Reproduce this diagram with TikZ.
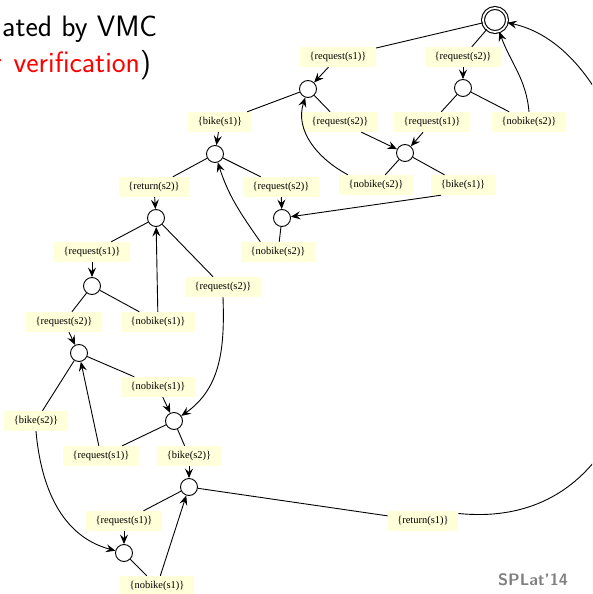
\documentclass[tikz,border=0pt]{standalone}
\usepackage{fontspec}
\newfontfamily\lblfont{Liberation Serif}
\usetikzlibrary{arrows.meta}
\definecolor{lblfill}{RGB}{255,255,218}
\definecolor{footgray}{RGB}{128,128,128}
\begin{document}
\begin{tikzpicture}[x=1pt,y=1pt,
  lbl/.style={fill=lblfill,inner xsep=9.5pt,inner ysep=0pt,minimum height=20pt,font=\lblfont\fontsize{10.5}{12}\selectfont},
  st/.style={circle,draw,line width=0.9pt,minimum size=17pt,inner sep=0pt},
  fin/.style={circle,draw,line width=1.1pt,minimum size=24pt,inner sep=0pt,double,double distance=1.8pt},
  ln/.style={line width=0.9pt},
  arr/.style={line width=0.9pt,-{Stealth[length=9.5pt,width=8pt,inset=3.5pt]}}]
\useasboundingbox (0,0) rectangle (592,-594);
\clip (0,0) rectangle (592,-594);
% title fragment
\node[anchor=base west,inner sep=0pt,font=\sffamily\fontsize{29.5}{32}\selectfont] (t1) at (2,-37) {ated by VMC};
\node[anchor=base east,inner sep=0pt,font=\sffamily\fontsize{29.5}{32}\selectfont] (t2) at (151,-72) {\textcolor{red}{r\kern3pt\ verification})};
\node[anchor=base,inner sep=0pt,font=\sffamily\bfseries\fontsize{16.5}{18}\selectfont,text=footgray] (foot) at (533,-585) {SPLat'14};
% states
\node[fin] (F) at (495,-20) {};
\node[st] (S1) at (308,-89) {};
\node[st] (S2) at (463,-88) {};
\node[st] (S3) at (405,-153) {};
\node[st] (S4) at (215,-154) {};
\node[st] (S5) at (282,-218) {};
\node[st] (S6) at (156,-218) {};
\node[st] (S7) at (92,-286) {};
\node[st] (S8) at (79,-353) {};
\node[st] (S9) at (174,-421) {};
\node[st] (S10) at (189,-487) {};
\node[st] (S11) at (124,-553) {};
% labels
\node[lbl] (l1) at (338,-57) {\{request(s1)\}};
\node[lbl] (l2) at (463,-57) {\{request(s2)\}};
\node[lbl] (l3) at (340,-122) {\{request(s2)\}};
\node[lbl] (l4) at (432,-122) {\{request(s1)\}};
\node[lbl] (l5) at (529,-122) {\{nobike(s2)\}};
\node[lbl] (l6) at (220,-122) {\{bike(s1)\}};
\node[lbl] (l7) at (376,-185) {\{nobike(s2)\}};
\node[lbl] (l8) at (463,-185) {\{bike(s1)\}};
\node[lbl] (l9) at (154,-187) {\{return(s2)\}};
\node[lbl] (l10) at (281,-187) {\{request(s2)\}};
\node[lbl] (l11) at (278,-252) {\{nobike(s2)\}};
\node[lbl] (l12) at (92,-252) {\{request(s1)\}};
\node[lbl] (l13) at (223,-287) {\{request(s2)\}};
\node[lbl] (l14) at (64,-322) {\{request(s2)\}};
\node[lbl] (l15) at (158,-322) {\{nobike(s1)\}};
\node[lbl] (l16) at (158,-387) {\{nobike(s1)\}};
\node[lbl] (l17) at (36,-421) {\{bike(s2)\}};
\node[lbl] (l18) at (101,-456) {\{request(s1)\}};
\node[lbl] (l19) at (189,-456) {\{bike(s2)\}};
\node[lbl] (l20) at (423,-521) {\{return(s1)\}};
\node[lbl] (l21) at (124,-521) {\{request(s1)\}};
\node[lbl] (l22) at (157,-586) {\{nobike(s1)\}};
% source -> label lines
\draw[ln] (F) -- (l1);
\draw[ln] (F) -- (l2);
\draw[ln] (S2) -- (l5);
\draw[ln] (S2) -- (l4);
\draw[ln] (S1) -- (l3);
\draw[ln] (S1) -- (l6);
\draw[ln] (S3) -- (l7);
\draw[ln] (S3) -- (l8);
\draw[ln] (S4) -- (l9);
\draw[ln] (S4) -- (l10);
\draw[ln] (S5) -- (l11);
\draw[ln] (S6) -- (l12);
\draw[ln] (S6) -- (l13);
\draw[ln] (S7) -- (l14);
\draw[ln] (S7) -- (l15);
\draw[ln] (S8) -- (l16);
\draw[ln] (S8) -- (l17);
\draw[ln] (S9) -- (l18);
\draw[ln] (S9) -- (l19);
\draw[ln] (S10) -- (l21);
\draw[ln] (S10) -- (l20);
\draw[ln] (S11) -- (l22);
% label -> target arrows
\draw[arr] (l1) -- (S1);
\draw[arr] (l2) -- (S2);
\draw[arr] (l5.north) to[out=95,in=-70] (F);
\draw[arr] (l4) -- (S3);
\draw[arr] (l3) -- (S3);
\draw[arr] (l7.160) to[out=152,in=-108] (S1);
\draw[arr] (l8.205) -- (S5);
\draw[arr] (l6) -- (S4);
\draw[arr] (l9) -- (S6);
\draw[arr] (l10) -- (S5);
\draw[arr] (l11.150) to[out=125,in=-72] (S4);
\draw[arr] (l12) -- (S7);
\draw[arr] (l13.south) to[out=-88,in=35] (S9);
\draw[arr] (l14) -- (S8);
\draw[arr] (l15) -- (S6);
\draw[arr] (l16) -- (S9);
\draw[arr] (l17.south) to[out=-85,in=165] (S11);
\draw[arr] (l18) -- (S8);
\draw[arr] (l19) -- (S10);
\draw[arr] (l21) -- (S11);
\draw[arr] (l22) -- (S10);
\draw[arr] (l20.12) .. controls (720,-540) and (680,-60) .. (F);
\end{tikzpicture}
\end{document}
